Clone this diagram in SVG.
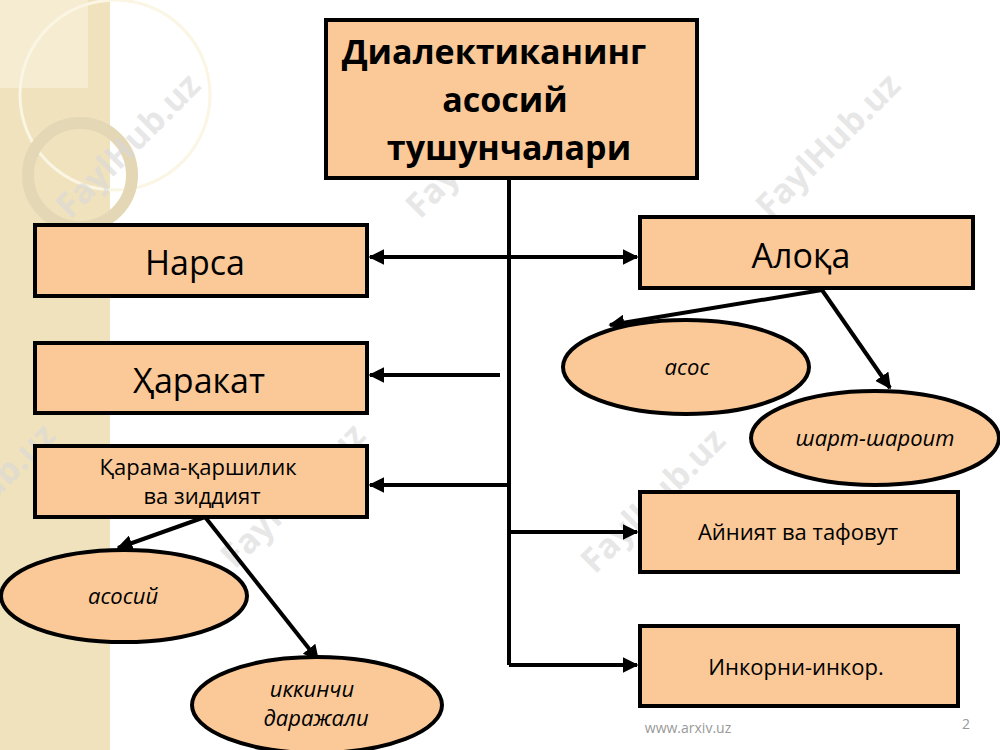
<svg xmlns="http://www.w3.org/2000/svg" width="1000" height="750" viewBox="0 0 1000 750">
<style>
.b{fill:#fbc998;stroke:#000;stroke-width:4}
.l{stroke:#000;stroke-width:4;fill:none}
.t{font-family:"Open Sans","DejaVu Sans",sans-serif;fill:#000;text-anchor:middle}
.i{font-style:italic;font-size:22px}
.w{font-family:"Open Sans",sans-serif;font-weight:bold;font-size:34px;fill:#d8d8d8;fill-opacity:0.6}
</style>
<defs><marker id="a" viewBox="0 0 10 10" refX="9" refY="5" markerWidth="4" markerHeight="4" orient="auto-start-reverse"><path d="M0,0L10,5L0,10z"/></marker></defs>
<rect width="1000" height="750" fill="#fff"/>
<rect width="110" height="750" fill="#f0e2bd"/>
<rect width="88" height="88" fill="#f6ecd2"/>
<circle cx="115" cy="95" r="95" fill="none" stroke="#fbf5e3" stroke-width="3"/>
<circle cx="80" cy="175" r="52" fill="none" stroke="#e4d7b6" stroke-width="12"/>
<g>
<text class="w" transform="translate(70,220) rotate(-45)">FaylHub.uz</text>
<text class="w" transform="translate(420,220) rotate(-45)">FaylHub.uz</text>
<text class="w" transform="translate(770,220) rotate(-45)">FaylHub.uz</text>
<text class="w" transform="translate(235,570) rotate(-45)">FaylHub.uz</text>
<text class="w" transform="translate(595,575) rotate(-45)">FaylHub.uz</text>
<text class="w" transform="translate(-75,570) rotate(-45)">FaylHub.uz</text>
</g>
<g id="connectors">
<path class="l" d="M509,178V665"/>
<path class="l" d="M370,257H637" marker-start="url(#a)" marker-end="url(#a)"/>
<path class="l" d="M500,375H370" marker-end="url(#a)"/>
<path class="l" d="M509,485H370" marker-end="url(#a)"/>
<path class="l" d="M509,532H637" marker-end="url(#a)"/>
<path class="l" d="M509,665H637" marker-end="url(#a)"/>
<path class="l" d="M822,290L610,325" marker-end="url(#a)"/>
<path class="l" d="M822,290L890,388" marker-end="url(#a)"/>
<path class="l" d="M205,517L118,548" marker-end="url(#a)"/>
<path class="l" d="M205,517L318,660" marker-end="url(#a)"/>
</g>
<g id="title"><rect class="b" x="326" y="20" width="371" height="158"/>
<text class="t" font-weight="bold" font-size="34"><tspan x="494" y="64">Диалектиканинг</tspan><tspan x="505" y="112">асосий</tspan><tspan x="509" y="160">тушунчалари</tspan></text></g>
<g id="narsa"><rect class="b" x="35" y="225" width="332" height="71"/><text class="t" x="195" y="275" font-size="34">Нарса</text></g>
<g id="harakat"><rect class="b" x="35" y="343" width="332" height="70"/><text class="t" x="199" y="393" font-size="34">Ҳаракат</text></g>
<g id="qarama"><rect class="b" x="35" y="446" width="332" height="71"/><text class="t" font-size="22"><tspan x="198" y="475">Қарама-қаршилик</tspan><tspan x="202" y="504">ва зиддият</tspan></text></g>
<g id="aloqa"><rect class="b" x="640" y="217" width="333" height="71"/><text class="t" x="801" y="268" font-size="34">Алоқа</text></g>
<g id="ayniyat"><rect class="b" x="640" y="492" width="318" height="80"/><text class="t" x="798" y="540" font-size="22">Айният ва тафовут</text></g>
<g id="inkor"><rect class="b" x="640" y="626" width="318" height="80"/><text class="t" x="796" y="675" font-size="22">Инкорни-инкор.</text></g>
<g id="asos"><ellipse class="b" cx="686" cy="367" rx="123" ry="47"/><text class="t i" x="687" y="375">асос</text></g>
<g id="shart"><ellipse class="b" cx="875" cy="438" rx="124" ry="47"/><text class="t i" x="875" y="446">шарт-шароит</text></g>
<g id="asosiy"><ellipse class="b" cx="124" cy="596" rx="123" ry="46"/><text class="t i" x="123" y="604">асосий</text></g>
<g id="ikkinchi"><ellipse class="b" cx="317" cy="705" rx="125" ry="48"/><text class="t i"><tspan x="312" y="697">иккинчи</tspan><tspan x="316" y="726">даражали</tspan></text></g>
<text x="688" y="733" font-family="Open Sans,sans-serif" font-size="14" fill="#999" text-anchor="middle">www.arxiv.uz</text>
<text x="966" y="729" font-family="Open Sans,sans-serif" font-size="14" fill="#999" text-anchor="middle">2</text>
</svg>
